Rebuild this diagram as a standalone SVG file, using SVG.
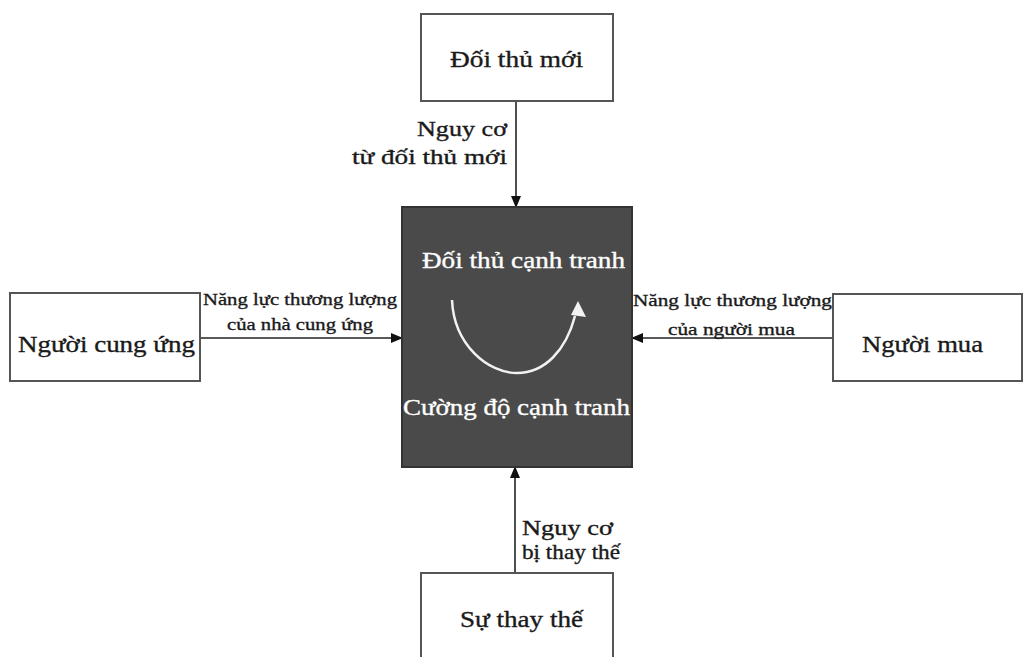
<svg xmlns="http://www.w3.org/2000/svg" width="1024" height="657" viewBox="0 0 1024 657">
<defs>
<style>
.box{fill:#fff;stroke:#555;stroke-width:2}
.t{font-family:"Liberation Serif","Times New Roman",serif;fill:#1a1a1a;stroke:#1a1a1a;stroke-width:0.35}
.node{font-size:23px}
.lab{font-size:21px}
.small{font-size:17px}
.w{fill:#fff;stroke:#fff}
.conn{stroke:#222;stroke-width:1.6;fill:none}
</style>
<marker id="ah" markerWidth="12" markerHeight="10" refX="11" refY="5" orient="auto" markerUnits="userSpaceOnUse">
<path d="M0,0 L12,5 L0,10 Z" fill="#111"/>
</marker>
</defs>
<rect width="1024" height="657" fill="#fff"/>
<g id="connectors">
<line class="conn" x1="516" y1="101" x2="516" y2="207" marker-end="url(#ah)"/>
<line class="conn" x1="200" y1="338" x2="402" y2="338" marker-end="url(#ah)"/>
<line class="conn" x1="833" y1="338" x2="632" y2="338" marker-end="url(#ah)"/>
<line class="conn" x1="515" y1="573" x2="515" y2="467" marker-end="url(#ah)"/>
<text class="t lab" x="417" y="136" textLength="90" lengthAdjust="spacingAndGlyphs">Nguy cơ</text>
<text class="t lab" x="352" y="164" textLength="155" lengthAdjust="spacingAndGlyphs">từ đối thủ mới</text>
<text class="t small" x="203" y="305" textLength="194" lengthAdjust="spacingAndGlyphs">Năng lực thương lượng</text>
<text class="t small" x="227" y="330" textLength="146" lengthAdjust="spacingAndGlyphs">của nhà cung ứng</text>
<text class="t small" x="633" y="306" textLength="199" lengthAdjust="spacingAndGlyphs">Năng lực thương lượng</text>
<text class="t small" x="668" y="335" textLength="127" lengthAdjust="spacingAndGlyphs">của người mua</text>
<text class="t lab" x="522" y="535" textLength="91" lengthAdjust="spacingAndGlyphs">Nguy cơ</text>
<text class="t lab" x="522" y="559" textLength="98" lengthAdjust="spacingAndGlyphs">bị thay thế</text>
</g>
<g id="node-doi-thu-moi">
<rect class="box" x="421" y="14" width="192" height="87"/>
<text class="t node" x="450" y="67" textLength="133" lengthAdjust="spacingAndGlyphs">Đối thủ mới</text>
</g>
<g id="node-canh-tranh">
<rect x="402" y="207" width="230" height="260" fill="#4a4a4a" stroke="#333" stroke-width="2"/>
<text class="t node w" x="422" y="268" textLength="203" lengthAdjust="spacingAndGlyphs">Đối thủ cạnh tranh</text>
<text class="t node w" x="403" y="415" textLength="227" lengthAdjust="spacingAndGlyphs">Cường độ cạnh tranh</text>
<path d="M452,300 C454,345 488,373 517,373 C545,373 566,350 575,316" fill="none" stroke="#f2f2f2" stroke-width="2.5"/>
<path d="M578,301 L586,317 L571,315 Z" fill="#f2f2f2"/>
</g>
<g id="node-nguoi-cung-ung">
<rect class="box" x="10" y="293" width="190" height="88"/>
<text class="t node" x="18" y="352" textLength="177" lengthAdjust="spacingAndGlyphs">Người cung ứng</text>
</g>
<g id="node-nguoi-mua">
<rect class="box" x="833" y="294" width="189" height="87"/>
<text class="t node" x="862" y="352" textLength="121" lengthAdjust="spacingAndGlyphs">Người mua</text>
</g>
<g id="node-su-thay-the">
<rect class="box" x="421" y="573" width="192" height="100"/>
<text class="t node" x="460" y="627" textLength="123" lengthAdjust="spacingAndGlyphs">Sự thay thế</text>
</g>
</svg>
